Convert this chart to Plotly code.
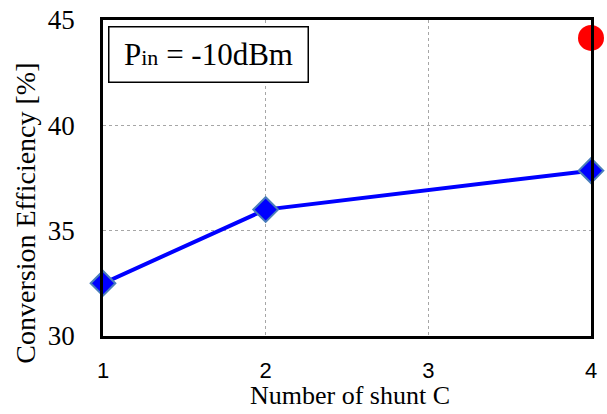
import plotly.graph_objects as go

shunt_c = [1, 2, 4]
efficiency = [32.5, 36.0, 37.85]
ref_x = [4]
ref_y = [44.15]
x_ticks = [1, 2, 3, 4]
y_ticks = [30, 35, 40, 45]

fig = go.Figure()
fig.add_trace(go.Scatter(
    x=shunt_c, y=efficiency, mode="lines+markers",
    line=dict(color="#0000ff", width=4),
    marker=dict(symbol="diamond", size=19, color="#0000ff",
                line=dict(color="#4a7ebb", width=2)),
    cliponaxis=False, showlegend=False))
fig.add_trace(go.Scatter(
    x=ref_x, y=ref_y, mode="markers",
    marker=dict(symbol="circle", size=26, color="#ff0000"),
    cliponaxis=False, showlegend=False))

fig.add_annotation(
    x=0.01, y=0.981, xref="paper", yref="paper", xanchor="left", yanchor="top",
    text="P<span style='font-size:22px'>in</span> = -10dBm",
    showarrow=False, font=dict(family="Liberation Serif", size=31, color="black"),
    bordercolor="black", borderwidth=1.5, borderpad=6, bgcolor="white",
    width=186, height=42, align="center", valign="middle")

# axis titles placed as annotations to match the reference positions
fig.add_annotation(
    x=-0.158, y=0.39, xref="paper", yref="paper", xanchor="center", yanchor="middle",
    text="Conversion Efficiency [%]", textangle=-90, showarrow=False,
    font=dict(family="Liberation Serif", size=28, color="black"))
fig.add_annotation(
    x=0.506, y=-0.241, xref="paper", yref="paper", xanchor="center", yanchor="bottom",
    text="Number of shunt C", showarrow=False,
    font=dict(family="Liberation Serif", size=26, color="black"))

fig.update_layout(
    width=607, height=414,
    margin=dict(l=103, r=16, t=20, b=78),
    plot_bgcolor="white", paper_bgcolor="white",
    xaxis=dict(range=[1, 4], tickvals=x_ticks, showline=True, linecolor="black",
               linewidth=2.5, mirror=True, showgrid=True, gridcolor="#a6a6a6",
               griddash="dot", gridwidth=1, zeroline=False, automargin=False,
               ticks="outside", ticklen=13, tickcolor="rgba(0,0,0,0)",
               tickfont=dict(family="Liberation Sans", size=22, color="black")),
    yaxis=dict(range=[30, 45], tickvals=y_ticks, showline=True, linecolor="black",
               linewidth=2.5, mirror=True, showgrid=True, gridcolor="#a6a6a6",
               griddash="dot", gridwidth=1, zeroline=False, automargin=False,
               ticks="outside", ticklen=20, tickcolor="rgba(0,0,0,0)",
               tickfont=dict(family="Liberation Serif", size=27, color="black")),
)

fig.write_html("out.html", config={"displayModeBar": False},
               post_script="document.body.style.margin='0';")
